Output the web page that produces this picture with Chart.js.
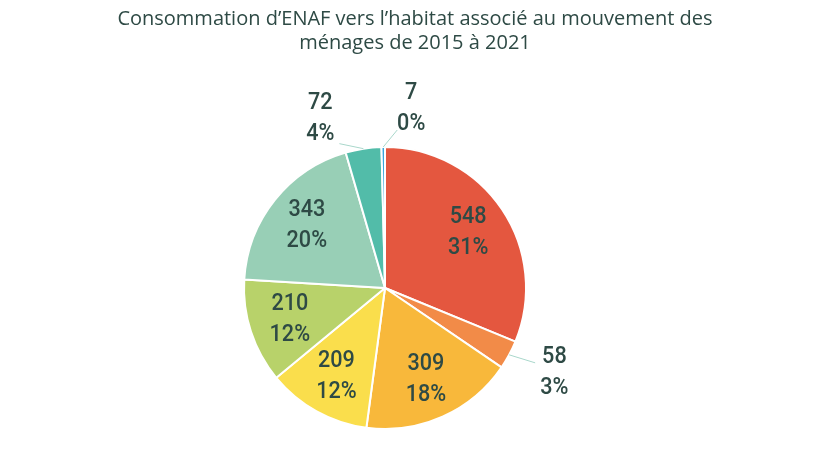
<!DOCTYPE html>
<html><head><meta charset="utf-8">
<script src="https://cdn.jsdelivr.net/npm/chart.js@4"></script>
<style>html,body{margin:0;padding:0;background:#fff}#wrap{width:826px;height:465px}</style>
</head><body><div id="wrap"><canvas id="c" width="826" height="465"></canvas></div>
<script>
const titleLines = ["Consommation d’ENAF vers l’habitat associé au mouvement des", "ménages de 2015 à 2021"];
const categories = ["A", "B", "C", "D", "E", "F", "G", "H"];
const values = [548, 58, 309, 209, 210, 343, 72, 7];
const percentLabels = ["31%", "3%", "18%", "12%", "12%", "20%", "4%", "0%"];
const colors = ["#E4573F", "#F28B48", "#F8B83B", "#FADE4C", "#B8D26A", "#98CFB6", "#52BCA9", "#3AA6DC"];
// outside label placement: index -> [angle shift (deg), radius factor]
const outside = {1: [-2, 1.34], 6: [-12, 1.29], 7: [9, 1.29]};
const textColor = "#2E4A45";

const labelPlugin = {
  id: 'labels',
  afterDatasetsDraw(chart) {
    const ctx = chart.ctx;
    const meta = chart.getDatasetMeta(0);
    ctx.save();
    ctx.fillStyle = textColor;
    ctx.textAlign = 'center';
    ctx.textBaseline = 'middle';
    meta.data.forEach((arc, i) => {
      const p = arc.getProps(['x','y','startAngle','endAngle','outerRadius'], true);
      const mid = (p.startAngle + p.endAngle) / 2;
      let lx, ly;
      if (outside[i]) {
        const a = mid + outside[i][0] * Math.PI / 180;
        const r = p.outerRadius * outside[i][1];
        lx = p.x + Math.cos(a) * r; ly = p.y + Math.sin(a) * r;
        const ex = p.x + Math.cos(mid) * p.outerRadius, ey = p.y + Math.sin(mid) * p.outerRadius;
        ctx.save();
        ctx.strokeStyle = '#A9D7CB'; ctx.lineWidth = 1;
        ctx.beginPath(); ctx.moveTo(ex, ey);
        if (i === 1) ctx.lineTo(ex + 26, ey + 8);
        else if (i === 6) ctx.lineTo(ex - 24, ey - 5);
        else ctx.lineTo(ex + 14, ey - 17);
        ctx.stroke(); ctx.restore();
      } else {
        const r = p.outerRadius * 0.71;
        lx = p.x + Math.cos(mid) * r; ly = p.y + Math.sin(mid) * r;
      }
      ctx.save();
      ctx.translate(lx, ly);
      ctx.scale(0.9, 1);
      ctx.font = '500 24px Roboto';
      ctx.fillText(String(values[i]), 0, -15);
      ctx.fillText(percentLabels[i], 0, 16);
      ctx.restore();
    });
    ctx.restore();
  },
  afterDraw(chart) {
    const ctx = chart.ctx;
    ctx.save();
    ctx.font = '500 20px "Open Sans"';
    ctx.fillStyle = textColor;
    ctx.textAlign = 'center';
    ctx.textBaseline = 'middle';
    ctx.fillText(titleLines[0], 415, 19);
    ctx.fillText(titleLines[1], 415, 43);
    ctx.restore();
  }
};

new Chart(document.getElementById('c'), {
  type: 'pie',
  data: { labels: categories, datasets: [{ data: values, backgroundColor: colors, borderColor: '#ffffff', borderWidth: 2 }] },
  options: {
    responsive: false, animation: false,
    layout: { padding: { top: 146, bottom: 35, left: 0, right: 56 } },
    plugins: { legend: { display: false }, tooltip: { enabled: false }, title: { display: false } }
  },
  plugins: [labelPlugin]
});
</script></body></html>
